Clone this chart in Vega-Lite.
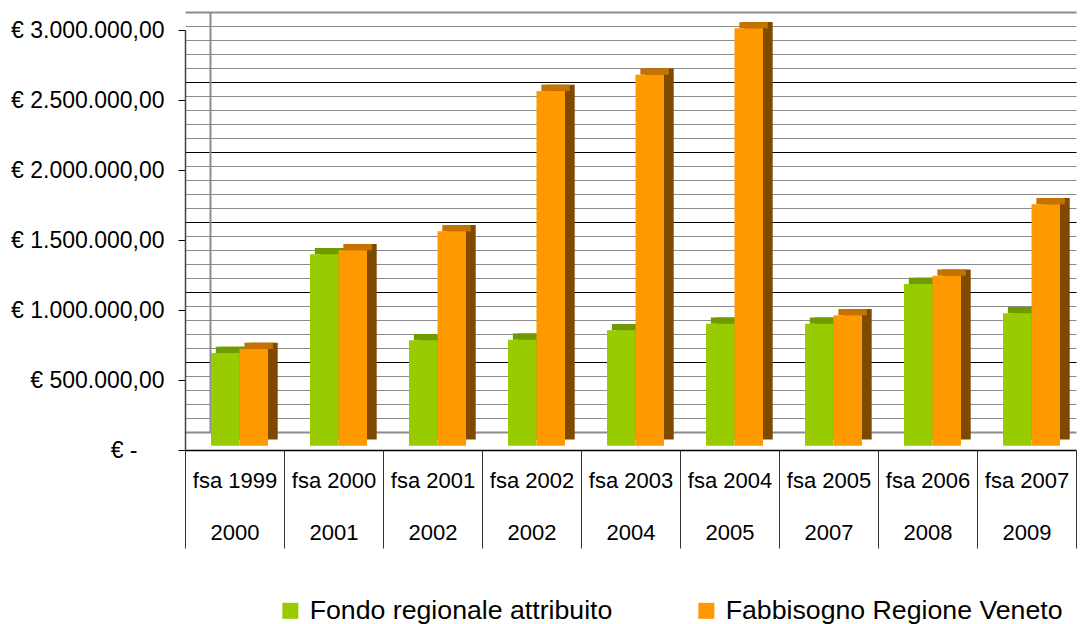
{
  "$schema": "https://vega.github.io/schema/vega-lite/v6.json",
  "width": 904,
  "height": 438,
  "autosize": "none",
  "padding": {"left": 185, "top": 12, "right": 0, "bottom": 174},
  "background": "white",
  "config": {"view": {"stroke": null}, "font": "Liberation Sans"},
  "data": {
    "values": [
      {"cat": "fsa 1999|2000", "serie": "Fondo regionale attribuito", "value": 662000},
      {"cat": "fsa 1999|2000", "serie": "Fabbisogno Regione Veneto", "value": 691000},
      {"cat": "fsa 2000|2001", "serie": "Fondo regionale attribuito", "value": 1367000},
      {"cat": "fsa 2000|2001", "serie": "Fabbisogno Regione Veneto", "value": 1396000},
      {"cat": "fsa 2001|2002", "serie": "Fondo regionale attribuito", "value": 753000},
      {"cat": "fsa 2001|2002", "serie": "Fabbisogno Regione Veneto", "value": 1531000},
      {"cat": "fsa 2002|2002", "serie": "Fondo regionale attribuito", "value": 757000},
      {"cat": "fsa 2002|2002", "serie": "Fabbisogno Regione Veneto", "value": 2534000},
      {"cat": "fsa 2003|2004", "serie": "Fondo regionale attribuito", "value": 824000},
      {"cat": "fsa 2003|2004", "serie": "Fabbisogno Regione Veneto", "value": 2650000},
      {"cat": "fsa 2004|2005", "serie": "Fondo regionale attribuito", "value": 871000},
      {"cat": "fsa 2004|2005", "serie": "Fabbisogno Regione Veneto", "value": 2981000},
      {"cat": "fsa 2005|2007", "serie": "Fondo regionale attribuito", "value": 871000},
      {"cat": "fsa 2005|2007", "serie": "Fabbisogno Regione Veneto", "value": 931000},
      {"cat": "fsa 2006|2008", "serie": "Fondo regionale attribuito", "value": 1155000},
      {"cat": "fsa 2006|2008", "serie": "Fabbisogno Regione Veneto", "value": 1214000},
      {"cat": "fsa 2007|2009", "serie": "Fondo regionale attribuito", "value": 946000},
      {"cat": "fsa 2007|2009", "serie": "Fabbisogno Regione Veneto", "value": 1724000}
    ]
  },
  "encoding": {
    "x": {
      "field": "cat",
      "type": "nominal",
      "sort": null,
      "scale": {"range": [0, 891], "paddingInner": 0, "paddingOuter": 0},
      "axis": {
        "title": null,
        "orient": "bottom",
        "labelExpr": "split(datum.label, '|')",
        "labelFont": "Liberation Sans",
        "labelFontSize": 22,
        "labelColor": "#000",
        "labelLineHeight": 52,
        "labelPadding": -78,
        "labelBaseline": "top",
        "labelAngle": 0,
        "labelLimit": 300,
        "tickBand": "extent",
        "tickSize": 98,
        "tickColor": "#333",
        "tickWidth": 1,
        "domainColor": "#000",
        "domainWidth": 1.5,
        "grid": false
      }
    }
  },
  "layer": [
    {
      "mark": {"type": "bar", "opacity": 0},
      "encoding": {
        "y": {
          "field": "value",
          "type": "quantitative",
          "scale": {"domain": [0, 3000000], "range": [420, 0], "nice": false},
          "axis": {
            "orient": "left",
            "offset": -25,
            "title": null,
            "labels": false,
            "ticks": false,
            "domain": true,
            "domainColor": "#8c8c8c",
            "domainWidth": 2,
            "grid": true,
            "values": [0,100000,200000,300000,400000,500000,600000,700000,800000,900000,1000000,1100000,1200000,1300000,1400000,1500000,1600000,1700000,1800000,1900000,2000000,2100000,2200000,2300000,2400000,2500000,2600000,2700000,2800000,2900000,3000000],
            "gridColor": {"condition": {"test": "datum.value % 500000 === 0 && datum.value > 0 && datum.value < 3000000", "value": "#000000"}, "value": "#8c8c8c"},
            "gridWidth": {"condition": {"test": "datum.value === 0 || datum.value === 3000000", "value": 2}, "value": 1}
          }
        }
      }
    },
    {
      "mark": {"type": "bar", "opacity": 0},
      "encoding": {
        "y": {
          "field": "value",
          "type": "quantitative",
          "scale": {"domain": [0, 3000000], "range": [438, 18], "nice": false},
          "axis": {
            "orient": "left",
            "title": null,
            "grid": false,
            "values": [0,500000,1000000,1500000,2000000,2500000,3000000],
            "labelExpr": "datum.value === 0 ? '€ -' : '€ ' + replace(replace(replace(format(datum.value, ',.2f'), regexp(',', 'g'), '#'), regexp('\\\\.', 'g'), ','), regexp('#', 'g'), '.')",
            "labelFont": "Liberation Sans",
            "labelFontSize": 23,
            "labelColor": "#000",
            "labelPadding": {"condition": {"test": "datum.value === 0", "value": 41}, "value": 14},
            "tickSize": 7,
            "tickColor": "#000",
            "domainColor": "#444",
            "domainWidth": 1.5
          }
        }
      }
    },
    {
      "mark": {"type": "bar", "yOffset": -6.3, "y2Offset": -6.3},
      "encoding": {
        "xOffset": {"field": "serie", "type": "nominal", "sort": ["Fondo regionale attribuito", "Fabbisogno Regione Veneto"], "scale": {"range": [35.7, 92.7], "paddingInner": 0, "paddingOuter": 0}},
        "y": {"field": "value", "type": "quantitative", "scale": {"domain": [0, 3000000], "range": [433.7, 13.7], "nice": false}, "axis": null},
        "color": {"field": "serie", "type": "nominal", "scale": {"domain": ["Fondo regionale attribuito", "Fabbisogno Regione Veneto"], "range": ["#6f9a00", "#7f4a00"]}, "legend": null}
      }
    },
    {
      "mark": {"type": "bar", "yOffset": -6.3},
      "encoding": {
        "xOffset": {"field": "serie", "type": "nominal", "sort": ["Fondo regionale attribuito", "Fabbisogno Regione Veneto"], "scale": {"range": [30.85, 87.85], "paddingInner": 0, "paddingOuter": 0}},
        "y": {"field": "value", "type": "quantitative", "scale": {"domain": [0, 3000000], "range": [433.7, 13.7], "nice": false}, "axis": null},
        "y2": {"field": "value"},
        "color": {"field": "serie", "type": "nominal", "scale": {"domain": ["Fondo regionale attribuito", "Fabbisogno Regione Veneto"], "range": ["#6f9a00", "#c47300"]}, "legend": null}
      }
    },
    {
      "mark": {"type": "bar"},
      "encoding": {
        "xOffset": {"field": "serie", "type": "nominal", "sort": ["Fondo regionale attribuito", "Fabbisogno Regione Veneto"], "scale": {"range": [26, 83], "paddingInner": 0, "paddingOuter": 0}},
        "y": {"field": "value", "type": "quantitative", "scale": {"domain": [0, 3000000], "range": [433.7, 13.7], "nice": false}, "axis": null},
        "color": {
          "field": "serie",
          "type": "nominal",
          "scale": {"domain": ["Fondo regionale attribuito", "Fabbisogno Regione Veneto"], "range": ["#99cc00", "#ff9900"]},
          "legend": {
            "orient": "none",
            "legendX": 92,
            "legendY": 585,
            "direction": "horizontal",
            "title": null,
            "symbolType": "square",
            "symbolSize": 256,
            "symbolStrokeWidth": 0,
            "labelFont": "Liberation Sans",
            "labelFontSize": 26.7,
            "labelColor": "#000",
            "labelOffset": 6,
            "labelLimit": 500,
            "columnPadding": 80,
            "padding": 0
          }
        }
      }
    }
  ],
  "resolve": {"scale": {"y": "independent", "color": "independent", "xOffset": "independent"}, "axis": {"y": "independent"}}
}
